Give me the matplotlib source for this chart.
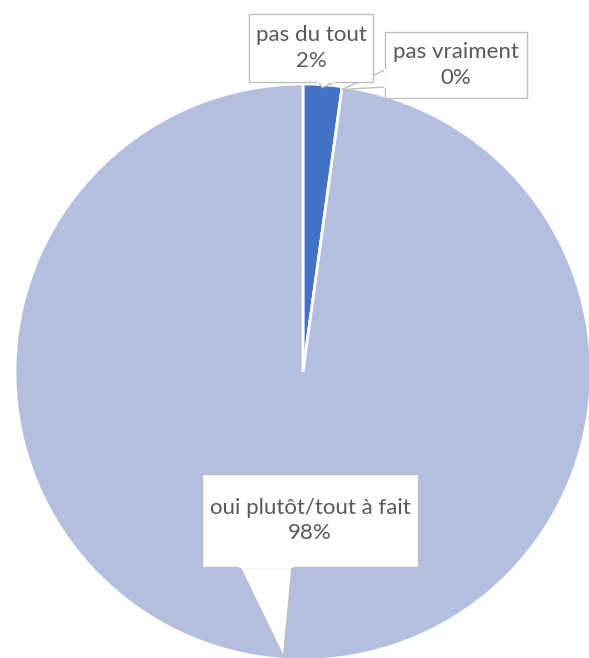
import numpy as np
import matplotlib
matplotlib.use('Agg')
import matplotlib.pyplot as plt
from matplotlib.patches import Rectangle, Polygon

categories = ['pas du tout', 'pas vraiment', 'oui plutôt/tout à fait']
counts = [1, 0, 45]
pct_labels = ['2%', '0%', '98%']
colors = ['#4472C4', '#8FA6D8', '#B4BFE0']

plt.rcParams['font.family'] = ['Lato', 'DejaVu Sans']

# pie centre / radius in pixels, used to place the callouts
CX, CY, R = 303, 372, 288


def px(x, y):
    return (x - CX) / R, (CY - y) / R


# callout boxes (left, top, right, bottom) and pointer bases, in pixels
boxes = [(249, 14, 373, 82), (385, 32, 527, 98), (202, 474, 418, 567)]
bases = [((318, 82), (334, 82)), ((385, 70), (385, 87)), ((240, 567), (292, 567))]

fig = plt.figure(figsize=(5.89, 6.58), dpi=100)
ax = fig.add_axes([0, 0, 1, 1])
wedges, _ = ax.pie(counts, colors=colors, startangle=90, counterclock=False,
                   radius=1, wedgeprops=dict(edgecolor='white', linewidth=2))

edge = '#BFBFBF'
for w, cat, pct, box, base in zip(wedges, categories, pct_labels, boxes, bases):
    mid = np.deg2rad((w.theta1 + w.theta2) / 2)
    tip = (np.cos(mid) * 0.99, np.sin(mid) * 0.99)
    b0, b1 = px(*base[0]), px(*base[1])
    ax.add_patch(Polygon([b0, tip, b1], closed=True, fc='white', ec=edge, lw=1, zorder=3))
    x0, y0 = px(box[0], box[3])
    x1, y1 = px(box[2], box[1])
    ax.add_patch(Rectangle((x0, y0), x1 - x0, y1 - y0, fc='white', ec=edge, lw=1, zorder=4))
    ax.plot([b0[0], b1[0]], [b0[1], b1[1]], color='white', lw=1.5, zorder=5)
    ax.text((x0 + x1) / 2, (y0 + y1) / 2, f'{cat}\n{pct}', ha='center', va='center',
            fontsize=16, color='#595959', linespacing=1.35, zorder=6)

ax.set_xlim(-CX / R, (589 - CX) / R)
ax.set_ylim((CY - 658) / R, CY / R)
ax.set_aspect('equal')
ax.axis('off')
fig.savefig('out.png', dpi=100)
